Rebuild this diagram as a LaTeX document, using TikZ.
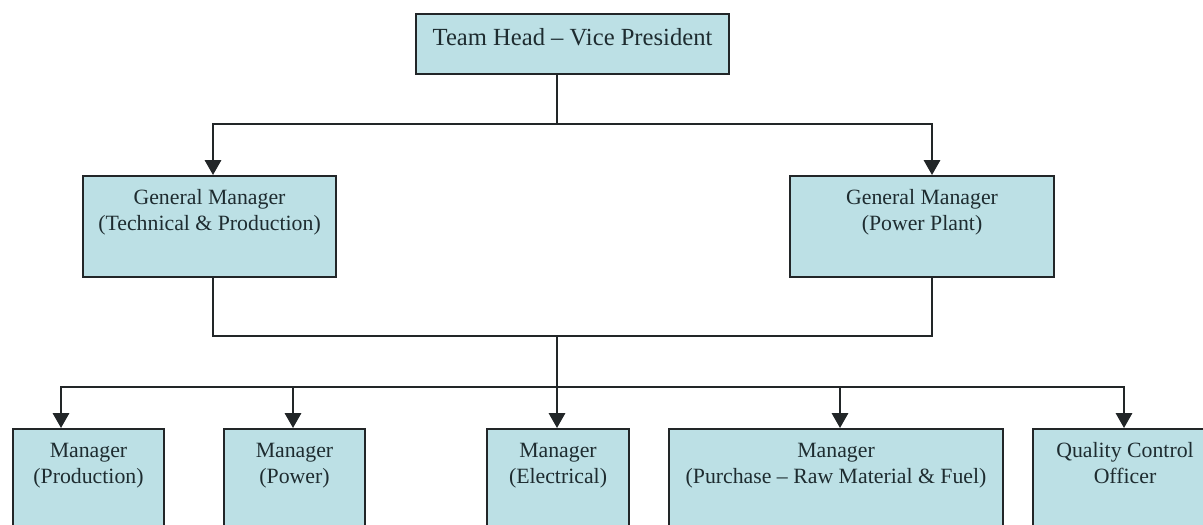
\documentclass[tikz,border=0pt]{standalone}
\usepackage{fontspec}
\setmainfont{Liberation Serif}
\usetikzlibrary{arrows.meta}
\definecolor{boxblue}{RGB}{188,224,229}
\definecolor{inkgray}{RGB}{34,38,40}
\definecolor{textgray}{RGB}{30,44,48}
\newcommand{\unittext}[3]{\parbox[t][#2][t]{#1}{\centering\rule{0pt}{0.71cm}#3}}

\begin{document}
\begin{tikzpicture}[x=0.025cm,y=-0.025cm,
    unit/.style={draw=inkgray,line width=1.4pt,fill=boxblue,text=textgray,inner sep=0pt,anchor=north west,font=\fontsize{15.5}{18.5}\selectfont},
    link/.style={draw=inkgray,line width=1.5pt},
    arrow/.style={link,-{Triangle[width=11.5pt,length=10.5pt]}}]
  \useasboundingbox (0,0) rectangle (1203,525);

  % top
  \node[unit,font=\fontsize{17.5}{21}\selectfont] (vp) at (415,13) {\parbox[t][1.5cm][t]{7.825cm}{\centering\rule{0pt}{0.8cm}Team Head – Vice President}};

  % general managers
  \node[unit] (gmt) at (82,175) {\unittext{6.325cm}{2.525cm}{General Manager\\(Technical \& Production)}};
  \node[unit] (gmp) at (789,175) {\unittext{6.6cm}{2.525cm}{General Manager\\(Power Plant)}};

  % managers
  \node[unit] (mprod) at (12,428) {\unittext{3.775cm}{2.925cm}{Manager\\(Production)}};
  \node[unit] (mpow) at (223,428) {\unittext{3.525cm}{2.925cm}{Manager\\(Power)}};
  \node[unit] (melec) at (486,428) {\unittext{3.55cm}{2.925cm}{Manager\\(Electrical)}};
  \node[unit] (mpur) at (668,428) {\unittext{8.35cm}{2.925cm}{Manager\\(Purchase – Raw Material \& Fuel)}};
  \node[unit] (qc) at (1032,428) {\unittext{4.6cm}{2.925cm}{Quality Control\\Officer}};

  \coordinate (split) at (557,124);
  \coordinate (tl) at (213,124);
  \coordinate (tr) at (932,124);
  \draw[link] (vp.south -| split) -- (split);
  \draw[arrow] (split) -| (tl |- gmt.north);
  \draw[arrow] (split) -| (tr |- gmp.north);

  \coordinate (jl) at (213,336);
  \coordinate (jr) at (932,336);
  \coordinate (join) at (557,336);
  \coordinate (bus) at (557,387);
  \draw[link] (gmt.south -| jl) -- (jl) -- (jr) -- (gmp.south -| jr);
  \draw[link] (join) -- (bus);

  \foreach \x/\n in {61/mprod,293/mpow,557/melec,840/mpur,1124/qc}
    \draw[arrow] (bus) -| (\x,387 |- \n.north);
\end{tikzpicture}
\end{document}
